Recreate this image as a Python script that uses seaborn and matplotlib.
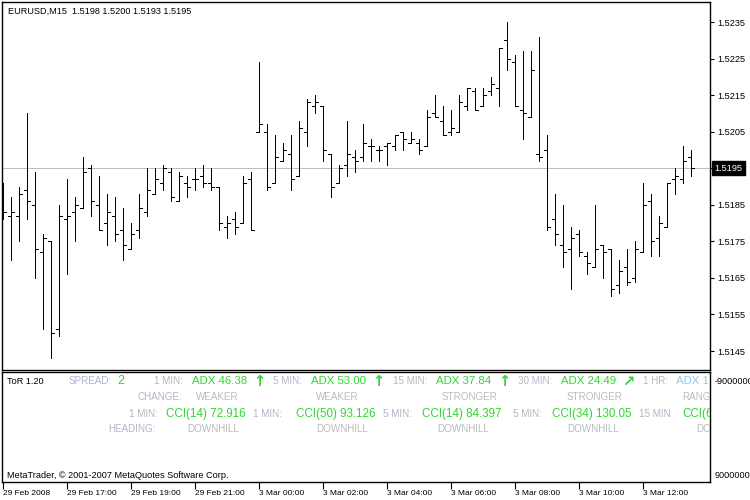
import matplotlib

matplotlib.use("Agg")
import matplotlib.pyplot as plt
import matplotlib.transforms as mtransforms
import numpy as np
import pandas as pd
import seaborn as sns

# --- data (EURUSD 15-minute bars) ---
symbol = "EURUSD,M15"
opens = [1.5188, 1.5182, 1.5182, 1.5189, 1.5185, 1.5172, 1.5175, 1.5151, 1.5181, 1.5183,
         1.5184, 1.5195, 1.5185, 1.5180, 1.5182, 1.5178, 1.5173, 1.5178, 1.5183, 1.5188,
         1.5191, 1.5194, 1.5186, 1.5191, 1.5192, 1.5193, 1.5191, 1.5190, 1.5179, 1.5181,
         1.5180, 1.5192, 1.5205, 1.5205, 1.5191, 1.5197, 1.5199, 1.5193, 1.5205, 1.5212,
         1.5212, 1.5199, 1.5191, 1.5196, 1.5198, 1.5198, 1.5201, 1.5200, 1.5201, 1.5201,
         1.5205, 1.5202, 1.5202, 1.5201, 1.5210, 1.5208, 1.5205, 1.5205, 1.5212, 1.5216,
         1.5212, 1.5216, 1.5217, 1.5230, 1.5224, 1.5211, 1.5209, 1.5199, 1.5200, 1.5181,
         1.5174, 1.5173, 1.5177, 1.5171, 1.5168, 1.5174, 1.5173, 1.5163, 1.5168, 1.5165,
         1.5172, 1.5186, 1.5176, 1.5179, 1.5192, 1.5192, 1.5198]
highs = [1.5191, 1.5187, 1.5190, 1.5210, 1.5194, 1.5177, 1.5175, 1.5185, 1.5192, 1.5187,
         1.5198, 1.5196, 1.5193, 1.5188, 1.5187, 1.5184, 1.5180, 1.5188, 1.5195, 1.5195,
         1.5196, 1.5195, 1.5194, 1.5193, 1.5195, 1.5196, 1.5195, 1.5190, 1.5182, 1.5183,
         1.5193, 1.5194, 1.5224, 1.5207, 1.5204, 1.5202, 1.5204, 1.5208, 1.5214, 1.5215,
         1.5212, 1.5199, 1.5196, 1.5208, 1.5200, 1.5207, 1.5203, 1.5201, 1.5202, 1.5204,
         1.5205, 1.5205, 1.5203, 1.5211, 1.5215, 1.5212, 1.5211, 1.5215, 1.5217, 1.5217,
         1.5217, 1.5220, 1.5228, 1.5235, 1.5226, 1.5227, 1.5227, 1.5231, 1.5204, 1.5188,
         1.5185, 1.5179, 1.5178, 1.5172, 1.5185, 1.5174, 1.5173, 1.5170, 1.5173, 1.5175,
         1.5191, 1.5188, 1.5182, 1.5191, 1.5195, 1.5201, 1.5200]
lows = [1.5181, 1.5170, 1.5175, 1.5181, 1.5165, 1.5151, 1.5143, 1.5149, 1.5166, 1.5175,
        1.5184, 1.5182, 1.5178, 1.5174, 1.5175, 1.5170, 1.5173, 1.5176, 1.5182, 1.5188,
        1.5189, 1.5186, 1.5186, 1.5187, 1.5189, 1.5190, 1.5189, 1.5178, 1.5176, 1.5177,
        1.5180, 1.5178, 1.5205, 1.5189, 1.5191, 1.5197, 1.5189, 1.5193, 1.5201, 1.5210,
        1.5197, 1.5187, 1.5191, 1.5193, 1.5194, 1.5197, 1.5197, 1.5197, 1.5196, 1.5200,
        1.5200, 1.5202, 1.5199, 1.5201, 1.5209, 1.5204, 1.5204, 1.5205, 1.5211, 1.5211,
        1.5212, 1.5215, 1.5212, 1.5222, 1.5212, 1.5203, 1.5209, 1.5197, 1.5178, 1.5174,
        1.5168, 1.5162, 1.5171, 1.5166, 1.5168, 1.5165, 1.5160, 1.5161, 1.5163, 1.5164,
        1.5172, 1.5171, 1.5171, 1.5179, 1.5188, 1.5191, 1.5193]
closes = [1.5183, 1.5183, 1.5188, 1.5186, 1.5173, 1.5176, 1.5150, 1.5182, 1.5182, 1.5185,
          1.5194, 1.5186, 1.5178, 1.5183, 1.5177, 1.5174, 1.5177, 1.5184, 1.5189, 1.5192,
          1.5195, 1.5187, 1.5193, 1.5190, 1.5192, 1.5191, 1.5190, 1.5180, 1.5180, 1.5179,
          1.5191, 1.5178, 1.5207, 1.5190, 1.5198, 1.5200, 1.5192, 1.5206, 1.5213, 1.5213,
          1.5200, 1.5190, 1.5195, 1.5199, 1.5197, 1.5202, 1.5201, 1.5200, 1.5202, 1.5204,
          1.5203, 1.5203, 1.5200, 1.5209, 1.5209, 1.5204, 1.5206, 1.5213, 1.5217, 1.5211,
          1.5215, 1.5218, 1.5228, 1.5225, 1.5212, 1.5210, 1.5222, 1.5198, 1.5179, 1.5177,
          1.5172, 1.5176, 1.5172, 1.5169, 1.5173, 1.5172, 1.5162, 1.5167, 1.5164, 1.5173,
          1.5185, 1.5175, 1.5180, 1.5191, 1.5193, 1.5197, 1.5195]

time_labels = ["29 Feb 2008", "29 Feb 17:00", "29 Feb 19:00", "29 Feb 21:00", "3 Mar 00:00",
               "3 Mar 02:00", "3 Mar 04:00", "3 Mar 06:00", "3 Mar 08:00", "3 Mar 10:00",
               "3 Mar 12:00"]
bars_per_label = 8
price_ticks = [1.5145, 1.5155, 1.5165, 1.5175, 1.5185, 1.5195, 1.5205, 1.5215, 1.5225, 1.5235]
sub_ticks = [-9000000, 9000000]

# ToR indicator panel
indicator_name = "ToR 1.20"
spread = 2
adx_frames = ["1 MIN:", "5 MIN:", "15 MIN:", "30 MIN:", "1 HR:"]
adx_values = ["ADX 46.38", "ADX 53.00", "ADX 37.84", "ADX 24.49", "ADX 1"]
adx_arrows = ["\u2191", "\u2191", "\u2191", "\u2197", ""]
adx_change = ["WEAKER", "WEAKER", "STRONGER", "STRONGER", "RANGING"]
cci_frames = ["1 MIN:", "1 MIN:", "5 MIN:", "5 MIN:", "15 MIN:"]
cci_values = ["CCI(14) 72.916", "CCI(50) 93.126", "CCI(14) 84.397", "CCI(34) 130.05", "CCI(6"]
cci_heading = ["DOWNHILL", "DOWNHILL", "DOWNHILL", "DOWNHILL", "DOWNHILL"]
copyright_text = "MetaTrader, \u00a9 2001-2007 MetaQuotes Software Corp."

df = pd.DataFrame({"open": opens, "high": highs, "low": lows, "close": closes})
df["bar"] = np.arange(len(df))

sns.set_theme(style="white")
plt.rcParams["font.family"] = ["Liberation Sans", "DejaVu Sans"]

W, H = 750, 500
fig = plt.figure(figsize=(W / 100, H / 100), dpi=100, facecolor="white")

# pixel layout helpers
x0, x1 = 2, 710
main_top, main_bot = 2, 370
sub_top, sub_bot = 372, 482
bar_px, first_px = 8, 3
xlim = ((x0 - first_px) / bar_px, (x1 - first_px) / bar_px)

ax = fig.add_axes([x0 / W, 1 - main_bot / H, (x1 - x0) / W, (main_bot - main_top) / H])
ax2 = fig.add_axes([x0 / W, 1 - sub_bot / H, (x1 - x0) / W, (sub_bot - sub_top) / H])

# --- main price panel: OHLC bars ---
tick = 0.32
lw = 0.5
ax.axhline(df["close"].iloc[-1], color="#c0c0c0", lw=0.75, zorder=1)
ax.vlines(df["bar"], df["low"], df["high"], color="black", lw=lw, antialiased=False, zorder=2)
ax.hlines(df["open"], df["bar"] - tick, df["bar"], color="black", lw=lw, antialiased=False, zorder=2)
ax.hlines(df["close"], df["bar"], df["bar"] + tick, color="black", lw=lw, antialiased=False, zorder=2)

px_per_unit = 36.56 / 0.001
ref_y, ref_price = 22, 1.5235
ax.set_ylim(ref_price - (main_bot - ref_y) / px_per_unit, ref_price + (ref_y - main_top) / px_per_unit)
ax.set_xlim(*xlim)
ax.set_xticks([])
ax.yaxis.tick_right()
ax.set_yticks(price_ticks)
last = df.iloc[-1]
# the tick under the current-price marker gets its label from the black box instead
ax.set_yticklabels(["" if abs(p - last["close"]) < 1e-6 else f"{p:.4f}" for p in price_ticks])
ax.tick_params(axis="y", right=True, left=False, length=3, width=0.8, pad=2,
               labelsize=6.6, colors="black")
for s in ax.spines.values():
    s.set_color("black")
    s.set_linewidth(1)

ax.text(0.008, 1 - 9 / (main_bot - main_top), f"{symbol}  {last['open']:.4f} {last['high']:.4f} "
        f"{last['low']:.4f} {last['close']:.4f}", transform=ax.transAxes,
        ha="left", va="center", fontsize=6.6, color="black")
ax.annotate(f"{last['close']:.4f}", xy=(1, last["close"]), xycoords=("axes fraction", "data"),
            xytext=(3.2, 0), textcoords="offset points", ha="left", va="center",
            fontsize=6.6, color="white", zorder=5, annotation_clip=False,
            bbox=dict(boxstyle="square,pad=0.28", fc="black", ec="black"))

# --- indicator sub-window ---
ax2.set_xlim(*xlim)
per_px = 18000000 / 95
ax2.set_ylim(9000000 + (sub_bot - 475) * per_px, -9000000 - (380 - sub_top) * per_px)
ax2.yaxis.tick_right()
ax2.set_yticks(sub_ticks)
ax2.set_yticklabels([str(v) for v in sub_ticks])
ax2.tick_params(axis="y", right=True, left=False, length=0, pad=3, labelsize=6.6, colors="black")
tick_bars = [i * bars_per_label for i in range(len(time_labels))]
ax2.set_xticks(tick_bars)
ax2.set_xticklabels(time_labels, ha="left")
ax2.tick_params(axis="x", bottom=True, length=5, width=0.8, pad=0.5, labelsize=6.0,
                colors="black", direction="out")
for s in ax2.spines.values():
    s.set_color("black")
    s.set_linewidth(1)

pix = mtransforms.Affine2D().scale(1 / W, -1 / H).translate(0, 1) + fig.transFigure

green = "#2ed62e"
label_grey = "#b2b4c6"
state_grey = "#bababa"


def put(x, y, s, color, size, **kw):
    ax2.text(x, y, s, transform=pix, color=color, fontsize=size, ha="left",
             va="center", clip_on=True, **kw)


row1, row2, row3, row4 = 381, 397, 414, 429
put(7, row1, indicator_name, "black", 6.6)
put(69, row1, "SPREAD:", "#aab4d6", 7.1)
put(117, row1, str(spread), green, 9.0)

adx_label_x = [154, 273, 393, 518, 643]
adx_value_x = [192, 311, 436, 561, 676]
adx_arrow_x = [253, 372, 498, 622, 0]
change_x = [196, 316, 442, 567, 682]
cci_label_x = [129, 253, 383, 513, 639]
cci_value_x = [166, 296, 422, 552, 682]
heading_x = [187, 316, 437, 567, 696]

for i in range(len(adx_frames)):
    put(adx_label_x[i], row1, adx_frames[i], label_grey, 7.1)
    vcol = "#8ccaf0" if i == len(adx_frames) - 1 else green
    put(adx_value_x[i], row1, adx_values[i], vcol, 8.2)
    if adx_arrows[i]:
        put(adx_arrow_x[i], row1, adx_arrows[i], green, 10.5, fontweight="bold",
            family="DejaVu Sans")
    put(change_x[i], row2, adx_change[i], state_grey, 7.1)
    put(cci_label_x[i], row3, cci_frames[i], label_grey, 7.1)
    put(cci_value_x[i], row3, cci_values[i], green, 8.4)
    put(heading_x[i], row4, cci_heading[i], state_grey, 7.1)

put(138, row2, "CHANGE:", label_grey, 7.1)
put(108, row4, "HEADING:", label_grey, 7.1)
put(7, 475, copyright_text, "black", 6.6)

fig.savefig("out.png", dpi=100, facecolor="white")
plt.close(fig)
